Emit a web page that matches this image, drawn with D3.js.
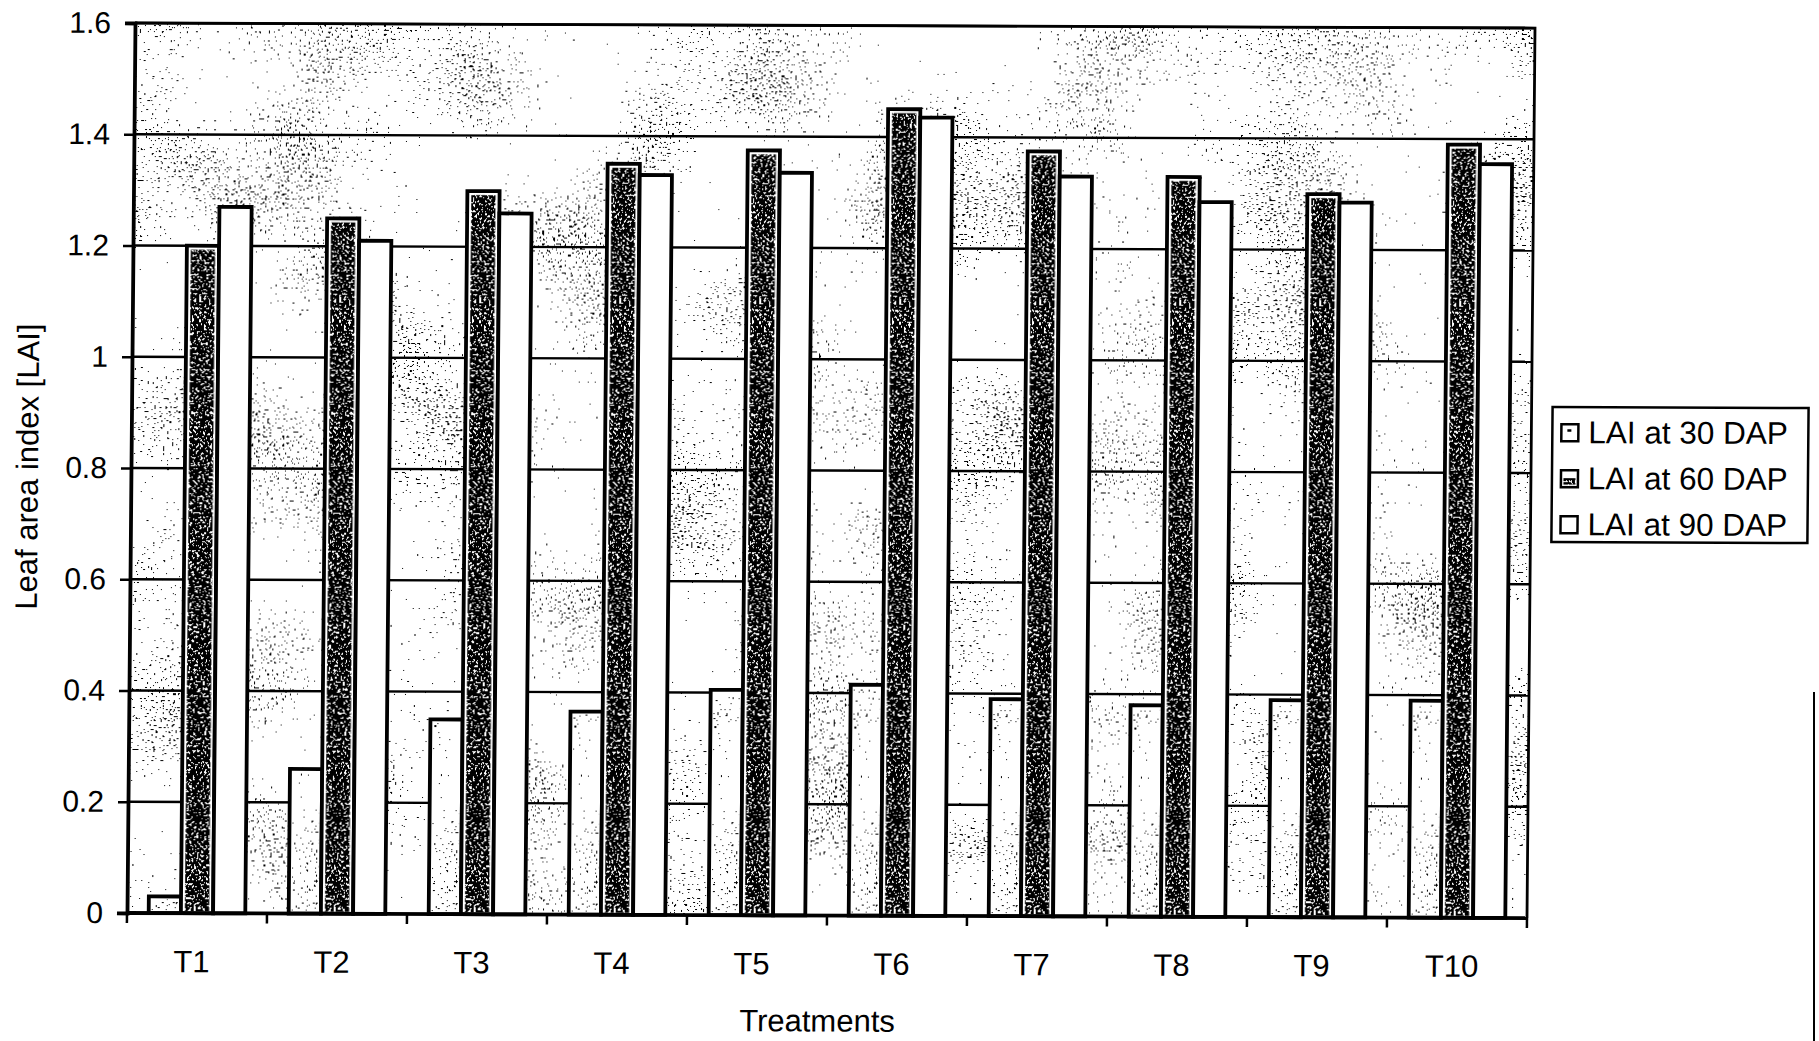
<!DOCTYPE html>
<html>
<head>
<meta charset="utf-8">
<script src="https://cdn.jsdelivr.net/npm/d3@7"></script>
<style>
  html, body { margin: 0; padding: 0; background: #fff; }
  svg { display: block; }
  text { font-family: "Liberation Sans", Arial, sans-serif; fill: #000; }
</style>
</head>
<body>
<svg id="chart" width="1819" height="1041"></svg>
<script>
// Leaf area index per treatment at three sampling dates
const categories = ["T1", "T2", "T3", "T4", "T5", "T6", "T7", "T8", "T9", "T10"];
const lai30 = [0.03, 0.26, 0.35, 0.365, 0.405, 0.415, 0.39, 0.38, 0.39, 0.39];
const lai60 = [1.20, 1.25, 1.30, 1.35, 1.375, 1.45, 1.375, 1.33, 1.30, 1.39];
const lai90 = [1.27, 1.21, 1.26, 1.33, 1.335, 1.435, 1.33, 1.285, 1.285, 1.355];
const seriesNames = ["LAI at 30 DAP", "LAI at 60 DAP", "LAI at 90 DAP"];
const yTicks = [0, 0.2, 0.4, 0.6, 0.8, 1, 1.2, 1.4, 1.6];
const yTickLabels = ["0", "0.2", "0.4", "0.6", "0.8", "1", "1.2", "1.4", "1.6"];
const xTitle = "Treatments";
const yTitle = "Leaf area index [LAI]";

const series = [
  { key: "d30", name: seriesNames[0], values: lai30 },
  { key: "d60", name: seriesNames[1], values: lai60 },
  { key: "d90", name: seriesNames[2], values: lai90 }
];

const svg = d3.select("#chart");
const plot = { left: 135, top: 23, right: 1535, bottom: 913 };

// Filters: dense speckle for the 60 DAP fill, sparse dots for the shaded areas
const defs = svg.append("defs");
function newFilter(id) {
  return defs.append("filter").attr("id", id)
    .attr("filterUnits", "userSpaceOnUse")
    .attr("color-interpolation-filters", "sRGB")
    .attr("x", 0).attr("y", 0).attr("width", 1819).attr("height", 1041);
}
{
  const f = newFilter("dense");
  f.append("feTurbulence").attr("type", "fractalNoise")
    .attr("baseFrequency", 0.42).attr("numOctaves", 2).attr("seed", 5).attr("result", "noise");
  f.append("feColorMatrix").attr("in", "noise").attr("type", "matrix")
    .attr("values", "0 0 0 0 0  0 0 0 0 0  0 0 0 0 0  10 0 0 0 -3.5").attr("result", "mask");
  f.append("feComponentTransfer").attr("in", "mask").attr("result", "bw")
    .append("feFuncA").attr("type", "discrete").attr("tableValues", "0 1");
  f.append("feComposite").attr("in", "bw").attr("in2", "SourceGraphic").attr("operator", "in");
}
{
  const f = newFilter("sparse");
  f.append("feTurbulence").attr("type", "fractalNoise")
    .attr("baseFrequency", 0.45).attr("numOctaves", 1).attr("seed", 11).attr("result", "hi");
  f.append("feColorMatrix").attr("in", "hi").attr("type", "matrix")
    .attr("values", "0 0 0 0 0  0 0 0 0 0  0 0 0 0 0  1 0 0 0 0").attr("result", "hiA");
  f.append("feTurbulence").attr("type", "fractalNoise")
    .attr("baseFrequency", 0.008).attr("numOctaves", 2).attr("seed", 2).attr("result", "lo");
  f.append("feColorMatrix").attr("in", "lo").attr("type", "matrix")
    .attr("values", "0 0 0 0 0  0 0 0 0 0  0 0 0 0 0  1 0 0 0 0").attr("result", "loA");
  f.append("feComposite").attr("in", "hiA").attr("in2", "loA").attr("operator", "arithmetic")
    .attr("k1", 0).attr("k2", 0.75).attr("k3", 0.25).attr("k4", 0).attr("result", "sum");
  f.append("feColorMatrix").attr("in", "sum").attr("type", "matrix")
    .attr("values", "0 0 0 0 0  0 0 0 0 0  0 0 0 0 0  0 0 0 14 -8.8").attr("result", "mask");
  f.append("feComponentTransfer").attr("in", "mask").attr("result", "bw")
    .append("feFuncA").attr("type", "discrete").attr("tableValues", "0 1");
  f.append("feComposite").attr("in", "bw").attr("in2", "SourceGraphic").attr("operator", "in");
}

// slight tilt of the whole figure
const g = svg.append("g")
  .attr("transform", "matrix(1,0.0036,-0.009,1,0.207,-0.486)");

const x0 = d3.scaleBand().domain(categories)
  .range([plot.left, plot.right]).paddingInner(0.31).paddingOuter(0.155);
const x1 = d3.scaleBand().domain(series.map(s => s.key))
  .range([0, x0.bandwidth()]).padding(0);
const y = d3.scaleLinear().domain([0, 1.6]).range([plot.bottom, plot.top]);

// plot background with faint dots
g.append("rect")
  .attr("x", plot.left).attr("y", plot.top)
  .attr("width", plot.right - plot.left).attr("height", plot.bottom - plot.top)
  .attr("fill", "#fff");
g.append("rect")
  .attr("x", plot.left).attr("y", plot.top)
  .attr("width", plot.right - plot.left).attr("height", plot.bottom - plot.top)
  .attr("fill", "#000").attr("filter", "url(#sparse)");

// gridlines
g.append("g").selectAll("line").data(yTicks.slice(1)).join("line")
  .attr("x1", plot.left).attr("x2", plot.right)
  .attr("y1", d => y(d)).attr("y2", d => y(d))
  .attr("stroke", "#000").attr("stroke-width", 2.4);

// bars
const groups = g.append("g").selectAll("g").data(categories).join("g")
  .attr("transform", d => `translate(${x0(d)},0)`);

series.forEach(s => {
  const bw = x1.bandwidth();
  const bars = groups.append("g");
  bars.append("rect")
    .attr("x", x1(s.key)).attr("width", bw)
    .attr("y", (d, i) => y(s.values[i]))
    .attr("height", (d, i) => y(0) - y(s.values[i]))
    .attr("fill", "#fff").attr("stroke", "#000").attr("stroke-width", 3.8);
  if (s.key === "d60") {
    bars.append("rect")
      .attr("x", x1(s.key) + 4).attr("width", bw - 8)
      .attr("y", (d, i) => y(s.values[i]) + 4)
      .attr("height", (d, i) => Math.max(0, y(0) - y(s.values[i]) - 6))
      .attr("fill", "#000").attr("filter", "url(#dense)");
  } else if (s.key === "d30") {
    bars.append("rect")
      .attr("x", x1(s.key) + 3).attr("width", bw - 6)
      .attr("y", (d, i) => y(s.values[i]) + 3)
      .attr("height", (d, i) => Math.max(0, y(0) - y(s.values[i]) - 5))
      .attr("fill", "#000").attr("filter", "url(#sparse)");
  }
});

// frame: top and right borders
g.append("path")
  .attr("d", `M${plot.left},${plot.top}H${plot.right}V${plot.bottom}`)
  .attr("fill", "none").attr("stroke", "#000").attr("stroke-width", 2.8);

// y axis
const yAxis = d3.axisLeft(y).tickValues(yTicks)
  .tickFormat((d, i) => yTickLabels[i]).tickSize(10).tickPadding(14);
const ya = g.append("g").attr("transform", `translate(${plot.left},0)`).call(yAxis);
ya.select(".domain").attr("stroke-width", 3.8);
ya.selectAll(".tick line").attr("stroke-width", 2.5);
ya.selectAll("text").attr("font-size", 30).style("font-family", "Liberation Sans, Arial, sans-serif");

// x axis: ticks at category boundaries
const bounds = categories.map(c => x0(c) - x0.step() * x0.paddingInner() / 2).concat([plot.right]);
const xa = g.append("g");
xa.append("line")
  .attr("x1", plot.left).attr("x2", plot.right)
  .attr("y1", plot.bottom).attr("y2", plot.bottom)
  .attr("stroke", "#000").attr("stroke-width", 3.8);
xa.selectAll("line.tk").data(bounds).join("line").attr("class", "tk")
  .attr("x1", d => d).attr("x2", d => d)
  .attr("y1", plot.bottom).attr("y2", plot.bottom + 10)
  .attr("stroke", "#000").attr("stroke-width", 2.5);
xa.selectAll("text").data(categories).join("text")
  .attr("x", d => x0(d) + x0.bandwidth() / 2 - 5)
  .attr("y", 972)
  .attr("text-anchor", "middle").attr("font-size", 31)
  .text(d => d);

// axis titles
g.append("text")
  .attr("x", 826).attr("y", 1029)
  .attr("text-anchor", "middle").attr("font-size", 31)
  .text(xTitle);
g.append("text")
  .attr("transform", "translate(42,467) rotate(-90)")
  .attr("text-anchor", "middle").attr("font-size", 31)
  .text(yTitle);

// legend
const lg = g.append("g");
lg.append("rect")
  .attr("x", 1556).attr("y", 402).attr("width", 256).attr("height", 135)
  .attr("fill", "#fff").attr("stroke", "#000").attr("stroke-width", 2.5);
const item = lg.selectAll("g.item").data(series).join("g").attr("class", "item")
  .attr("transform", (d, i) => `translate(1565,${427 + i * 46})`);
item.append("rect")
  .attr("x", 0).attr("y", -8).attr("width", 17).attr("height", 17)
  .attr("fill", "#fff").attr("stroke", "#000").attr("stroke-width", 2.5);
item.filter(d => d.key === "d60").append("rect")
  .attr("x", 2.5).attr("y", -5.5).attr("width", 12).attr("height", 12)
  .attr("fill", "#000").attr("filter", "url(#dense)");
item.filter(d => d.key === "d30").append("rect")
  .attr("x", 6).attr("y", -3).attr("width", 4).attr("height", 2.5).attr("fill", "#000");
item.append("text")
  .attr("x", 27).attr("y", 11)
  .attr("font-size", 31.5)
  .text(d => d.name);

// scan edge on the right side
svg.append("line")
  .attr("x1", 1814).attr("x2", 1814).attr("y1", 692).attr("y2", 1041)
  .attr("stroke", "#000").attr("stroke-width", 2);
</script>
</body>
</html>
